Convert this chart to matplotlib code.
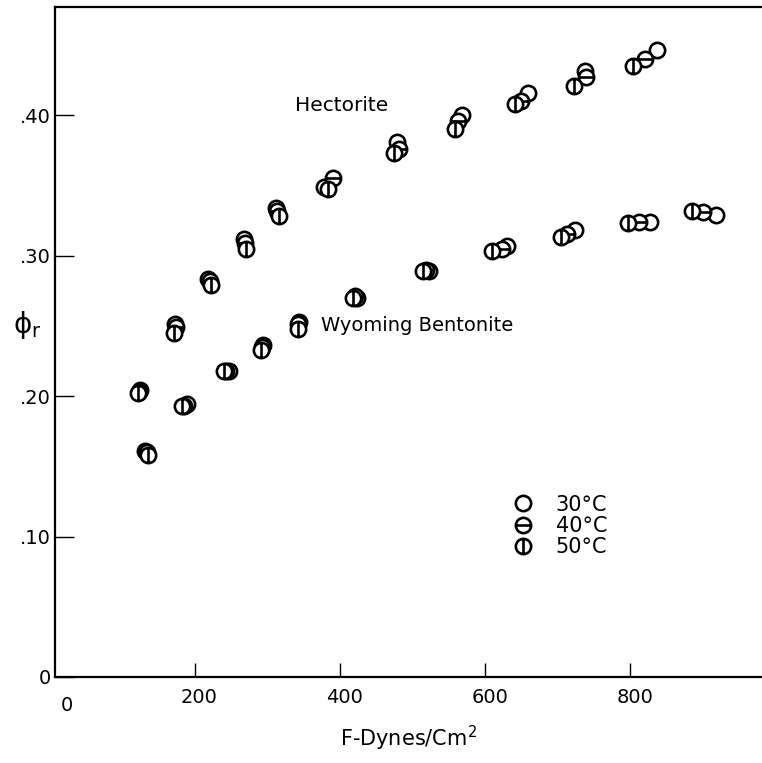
import numpy as np
import matplotlib
matplotlib.use("Agg")
import matplotlib.pyplot as plt
from matplotlib.path import Path
from matplotlib.transforms import ScaledTranslation

plt.rcParams['font.family'] = ['DejaVu Sans']
plt.rcParams['mathtext.fontset'] = 'dejavusans'

# ---- data (F in dynes/cm^2, phi_r) ----
hect_F_30 = [125, 173, 219, 268, 312, 378, 478, 568, 659, 738, 836]
hect_p_30 = [0.204, 0.251, 0.283, 0.312, 0.334, 0.349, 0.381, 0.400, 0.416, 0.431, 0.446]
hect_F_40 = [124, 174, 221, 270, 314, 390, 481, 563, 650, 739, 820]
hect_p_40 = [0.203, 0.249, 0.282, 0.309, 0.332, 0.355, 0.376, 0.396, 0.410, 0.427, 0.440]
hect_F_50 = [122, 172, 223, 271, 316, 384, 474, 558, 641, 722, 804]
hect_p_50 = [0.202, 0.245, 0.279, 0.305, 0.328, 0.347, 0.373, 0.390, 0.408, 0.421, 0.435]

bent_F_30 = [132, 189, 247, 294, 344, 424, 523, 630, 724, 827, 918]
bent_p_30 = [0.161, 0.194, 0.218, 0.236, 0.253, 0.270, 0.289, 0.307, 0.318, 0.324, 0.329]
bent_F_40 = [134, 186, 244, 293, 343, 421, 518, 623, 712, 812, 900]
bent_p_40 = [0.160, 0.193, 0.218, 0.235, 0.251, 0.271, 0.290, 0.305, 0.315, 0.324, 0.331]
bent_F_50 = [136, 183, 240, 292, 342, 418, 514, 610, 705, 796, 884]
bent_p_50 = [0.158, 0.193, 0.218, 0.233, 0.248, 0.270, 0.289, 0.303, 0.313, 0.323, 0.332]

temps = ["30°C", "40°C", "50°C"]
x_ticks = [200, 400, 600, 800]
x_ticklabels = ["200", "400", "600", "800"]
y_ticks = [0.0, 0.1, 0.2, 0.3, 0.4]
y_ticklabels = ["0", ".10", ".20", ".30", ".40"]

# ---- marker shapes ----
circ = Path.unit_circle()
def circle_with(line):
    verts = list(circ.vertices) + line
    codes = list(circ.codes) + [Path.MOVETO, Path.LINETO]
    return Path(verts, codes)
m30 = circ
m40 = circle_with([(-1, 0), (1, 0)])
m50 = circle_with([(0, -1), (0, 1)])

fig = plt.figure(figsize=(7.62, 7.63), dpi=100)
W, H = 762, 763
ax = fig.add_axes([55 / W, 1 - 677 / H, 1 - 55 / W, (677 - 7) / H])
ax.set_xlim(8, 981)
ax.set_ylim(0, 0.4769)

mk = dict(linestyle='none', markersize=11, markerfacecolor='white',
          markeredgecolor='black', markeredgewidth=1.9)
for F, P, m, lab in [(hect_F_30, hect_p_30, m30, temps[0]),
                     (hect_F_40, hect_p_40, m40, temps[1]),
                     (hect_F_50, hect_p_50, m50, temps[2])]:
    ax.plot(F, P, marker=m, label=lab, **mk)
for F, P, m in [(bent_F_30, bent_p_30, m30),
                (bent_F_40, bent_p_40, m40),
                (bent_F_50, bent_p_50, m50)]:
    ax.plot(F, P, marker=m, **mk)

for s in ['top', 'left', 'bottom']:
    ax.spines[s].set_linewidth(1.6)
ax.spines['right'].set_visible(False)

ax.set_xticks(x_ticks)
ax.set_xticklabels(x_ticklabels)
ax.set_yticks(y_ticks)
ax.set_yticklabels(y_ticklabels)
ax.tick_params(axis='x', direction='in', length=10, width=1.0, labelsize=14, pad=8)
ax.tick_params(axis='y', direction='in', length=14, width=1.0, labelsize=14, pad=3)
off = ScaledTranslation(5 / 100, 0, fig.dpi_scale_trans)
for lbl in ax.get_xticklabels():
    lbl.set_transform(lbl.get_transform() + off)
ax.text(25, -0.0135, "0", fontsize=14, ha='center', va='top')

ax.set_xlabel("F-Dynes/Cm$^2$", fontsize=15, labelpad=12)
fig.text(27 / W, 1 - 325 / H, r"$\mathregular{\phi_r}$", fontsize=20,
         ha='center', va='center')

ax.text(402, 0.407, "Hectorite", fontsize=14.5, ha='center', va='center')
ax.text(506, 0.250, "Wyoming Bentonite", fontsize=14, ha='center', va='center')

ax.legend(loc='upper left', bbox_to_anchor=(0.62, 0.30), frameon=False,
          fontsize=15, handletextpad=1.1, labelspacing=0.05, handlelength=1.0,
          numpoints=1)

fig.savefig("out.png", dpi=100)
